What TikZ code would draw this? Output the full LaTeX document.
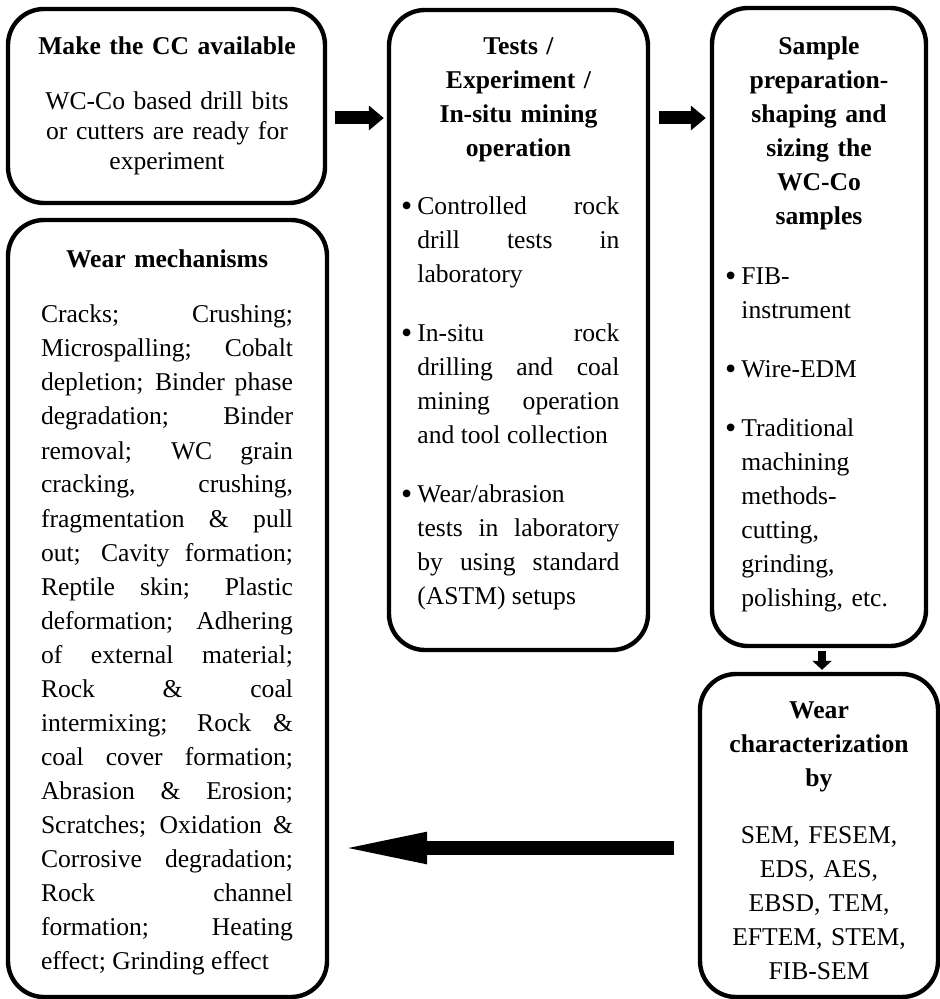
\documentclass[tikz,border=0pt]{standalone}
\usepackage{fontspec}
\setmainfont{Liberation Serif}
\usetikzlibrary{arrows.meta}
\tolerance=10000
\hyphenpenalty=10000
\exhyphenpenalty=10000
\newcommand\bul{\noindent\llap{\raisebox{-1pt}{\fontsize{16}{16}\selectfont\textbullet}\hspace{2.5pt}}}
\newcommand\gap{\par\vspace{12.5pt}}
\begin{document}
\begin{tikzpicture}[x=0.5pt,y=-0.5pt,
box/.style={draw,line width=2.2pt,rounded corners=18pt,inner sep=0pt},
head/.style={anchor=base,inner sep=0pt,text width=#1,align=center,font=\fontsize{12.8}{17}\selectfont\bfseries},
body/.style={inner sep=0pt,text width=#1,align=justify,font=\fontsize{12.8}{17}\selectfont},
small/.style={-{Triangle[length=7.5pt,width=12pt]},line width=6.5pt},
big/.style={-{Triangle[length=45pt,width=14pt]},line width=7pt}]
\useasboundingbox (0,0) rectangle (940,999);
\node[box,minimum width=158.5pt,minimum height=97pt] (cc) at (166.5,106) {};
\node[box,minimum width=159.5pt,minimum height=388.5pt] (wear) at (167.5,608.5) {};
\node[box,minimum width=129.5pt,minimum height=320pt] (tests) at (518.5,330) {};
\node[box,minimum width=107pt,minimum height=319pt] (prep) at (819,327) {};
\node[box,minimum width=119pt,minimum height=161.5pt] (charac) at (819,835.5) {};
\node[head=150pt] (cch) at (167,55) {Make the CC available};
\node[body=150pt,align=center,anchor=base,font=\fontsize{12.8}{15}\selectfont] (ccb) at (167,110) {WC-Co based drill bits\\or cutters are ready for\\experiment};
\node[head=150pt] (wearh) at (167,268) {Wear mechanisms};
\node[body=126pt,anchor=base] (wearb) at (167,323) {Cracks; Crushing;\linebreak Microspalling; Cobalt\linebreak depletion; Binder phase\linebreak degradation; Binder\linebreak removal; WC grain\linebreak cracking, crushing,\linebreak fragmentation \& pull\linebreak out; Cavity formation;\linebreak Reptile skin; Plastic\linebreak deformation; Adhering\linebreak of external material;\linebreak Rock \& coal\linebreak intermixing; Rock \&\linebreak coal cover formation;\linebreak Abrasion \& Erosion;\linebreak Scratches; Oxidation \&\linebreak Corrosive degradation;\linebreak Rock channel\linebreak formation; Heating\linebreak effect; Grinding effect};
\node[head=120pt] (testsh) at (518.5,55) {Tests /\\Experiment /\\In-situ mining\\operation};
\node[body=101pt,anchor=base west] (testsb) at (417,215) {\bul Controlled rock\linebreak drill tests in\linebreak laboratory\gap
\bul In-situ rock\linebreak drilling and coal\linebreak mining operation\linebreak and tool collection\gap
\bul Wear/abrasion\newline tests in laboratory\linebreak by using standard\linebreak (ASTM) setups};
\node[head=100pt] (preph) at (819,55) {Sample\\preparation-\\shaping and\\sizing the\\WC-Co\\samples};
\node[body=80pt,align=left,anchor=base west] (prepb) at (741,285) {\bul FIB-\\instrument\gap
\bul Wire-EDM\gap
\bul Traditional\\machining\\methods-\\cutting,\\grinding,\\polishing, etc.};
\node[head=110pt] (charach) at (819,718) {Wear\\characterization\\by};
\node[body=110pt,align=center,anchor=base] (characb) at (819,843) {SEM, FESEM,\\EDS, AES,\\EBSD, TEM,\\EFTEM, STEM,\\FIB-SEM};
\coordinate (lvl) at ([yshift=-6pt]cc.east);
\coordinate (back) at ([yshift=-6.25pt]charac.west);
\draw[small,shorten <=4pt,shorten >=1.5pt] (lvl) -- (lvl -| tests.west);
\draw[small,shorten <=4.5pt,shorten >=2pt] (lvl -| tests.east) -- (lvl -| prep.west);
\draw[-{Triangle[length=4.5pt,width=9.5pt]},line width=4pt,shorten <=1.5pt,shorten >=1pt] ([xshift=1.5pt]prep.south) -- ([xshift=1.5pt]charac.north);
\draw[big,shorten <=12pt,shorten >=4pt] (back) -- (back -| wear.east);
\end{tikzpicture}
\end{document}
